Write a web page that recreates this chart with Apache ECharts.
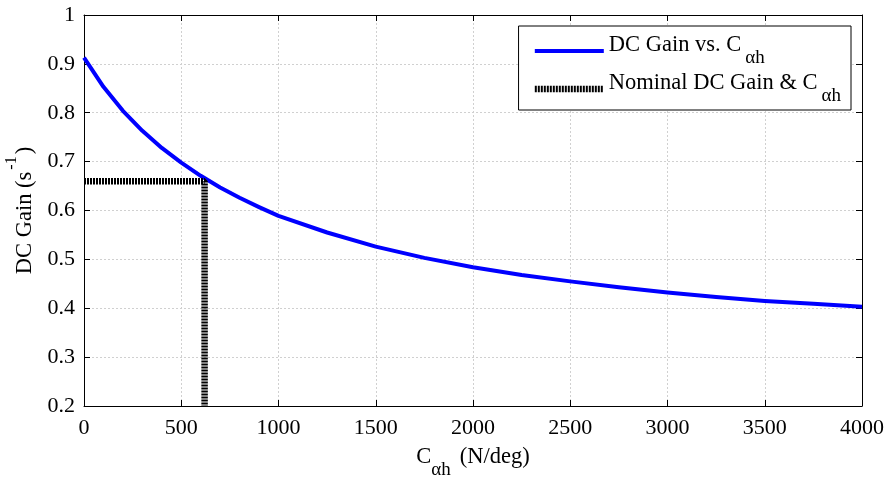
<!DOCTYPE html>
<html>
<head>
<meta charset="utf-8">
<script src="https://cdn.jsdelivr.net/npm/echarts@6/dist/echarts.min.js"></script>
<style>html,body{margin:0;padding:0;background:#fff;}#c{width:888px;height:479px;}</style>
</head>
<body>
<div id="c"></div>
<script>
// Data
const cahValues = [0, 100, 200, 300, 400, 500, 600, 700, 800, 900, 1000, 1250, 1500, 1750, 2000, 2250, 2500, 2750, 3000, 3250, 3500, 3750, 4000];
const dcGainValues = [0.913, 0.853, 0.804, 0.763, 0.728, 0.698, 0.671, 0.647, 0.626, 0.607, 0.589, 0.555, 0.526, 0.503, 0.484, 0.468, 0.455, 0.443, 0.432, 0.423, 0.415, 0.409, 0.403];
const nominalX = [0, 620, 620];
const nominalY = [0.66, 0.66, 0.2];
const seriesNames = ['DC Gain vs. Cαh', 'Nominal DC Gain & Cαh'];
const legendRich = ['{a|DC Gain vs. C}{s|αh}', '{a|Nominal DC Gain & C}{s|αh}'];

const FONT = "'Liberation Serif', 'Times New Roman', serif";
const chart = echarts.init(document.getElementById('c'), null, {renderer: 'canvas'});

const mainCurve = cahValues.map((x, i) => [x, dcGainValues[i]]);
const nominal = nominalX.map((x, i) => [x, nominalY[i]]);

const legendSubRich = {
  a: {fontFamily: FONT, fontSize: 22.5, color: '#000', lineHeight: 34, verticalAlign: 'top'},
  s: {fontFamily: FONT, fontSize: 19, color: '#000', lineHeight: 34, verticalAlign: 'bottom', padding: [0, 0, 0, 4]}
};
const xNameRich = {
  a: {fontFamily: FONT, fontSize: 22.5, color: '#000', lineHeight: 34, verticalAlign: 'top'},
  s: {fontFamily: FONT, fontSize: 19, color: '#000', lineHeight: 34, verticalAlign: 'bottom', padding: [0, 9, 0, 0]}
};

chart.setOption({
  animation: false,
  backgroundColor: '#fff',
  grid: {left: 84, right: 26, top: 15, bottom: 73, containLabel: false, outerBoundsMode: 'none'},
  legend: {
    orient: 'vertical',
    right: 37,
    top: 26,
    padding: [8, 10, 4, 13],
    itemGap: 4,
    itemWidth: 69,
    itemHeight: 20,
    icon: 'inherit',
    itemStyle: {opacity: 0},
    borderColor: '#000',
    borderWidth: 1,
    borderRadius: 0,
    backgroundColor: '#fff',
    data: [
      {name: seriesNames[0], lineStyle: {width: 4, color: '#0000ff'}},
      {name: seriesNames[1], lineStyle: {width: 6.5, color: '#000', type: [2, 1], cap: 'butt'}}
    ],
    formatter: function (name) { return legendRich[seriesNames.indexOf(name)]; },
    textStyle: {fontFamily: FONT, fontSize: 22.5, color: '#000', rich: legendSubRich}
  },
  xAxis: [{
    type: 'value', min: 0, max: 4000, interval: 500, position: 'bottom',
    name: '{a|C}{s|αh}{a|(N/deg)}',
    nameLocation: 'middle', nameGap: 40,
    nameTextStyle: {rich: xNameRich},
    axisLine: {show: true, onZero: false, lineStyle: {color: '#000', width: 1}},
    axisTick: {show: true, inside: true, length: 6, lineStyle: {color: '#000'}},
    axisLabel: {fontFamily: FONT, fontSize: 22, color: '#000', margin: 11,
      formatter: function (v) { return String(v); }},
    splitLine: {show: true, lineStyle: {color: '#d0d0d0', type: [2, 2], width: 1}}
  }, {
    type: 'value', min: 0, max: 4000, interval: 500, position: 'top',
    axisLine: {show: true, onZero: false, lineStyle: {color: '#000', width: 1}},
    axisTick: {show: true, inside: true, length: 6, lineStyle: {color: '#000'}},
    axisLabel: {show: false}, splitLine: {show: false}
  }],
  yAxis: [{
    type: 'value', min: 0.2, max: 1, interval: 0.1, position: 'left',
    name: '{m|DC Gain (s}{p|-1}{m|)}',
    nameLocation: 'middle', nameGap: 46.5, nameRotate: 90,
    nameTextStyle: {rich: {
      m: {fontFamily: FONT, fontSize: 22.5, color: '#000', lineHeight: 33, verticalAlign: 'bottom'},
      p: {fontFamily: FONT, fontSize: 16, color: '#000', lineHeight: 33, verticalAlign: 'top', padding: [0, 2, 0, 2]}
    }},
    axisLine: {show: true, onZero: false, lineStyle: {color: '#000', width: 1}},
    axisTick: {show: true, inside: true, length: 6, lineStyle: {color: '#000'}},
    axisLabel: {fontFamily: FONT, fontSize: 22, color: '#000', margin: 9,
      formatter: function (v) { return String(Math.round(v * 10) / 10); }},
    splitLine: {show: true, lineStyle: {color: '#d0d0d0', type: [2, 2], width: 1}}
  }, {
    type: 'value', min: 0.2, max: 1, interval: 0.1, position: 'right',
    axisLine: {show: true, onZero: false, lineStyle: {color: '#000', width: 1}},
    axisTick: {show: true, inside: true, length: 6, lineStyle: {color: '#000'}},
    axisLabel: {show: false}, splitLine: {show: false}
  }],
  series: [{
    name: seriesNames[0], type: 'line', data: mainCurve, showSymbol: false, symbol: 'none',
    smooth: false, color: '#0000ff',
    lineStyle: {color: '#0000ff', width: 4, join: 'round'}, z: 3
  }, {
    name: seriesNames[1], type: 'line', data: nominal, showSymbol: false, symbol: 'none',
    color: '#000',
    lineStyle: {color: '#000', width: 6.5, type: [2, 1], cap: 'butt'}, z: 4
  }]
});
</script>
</body>
</html>
